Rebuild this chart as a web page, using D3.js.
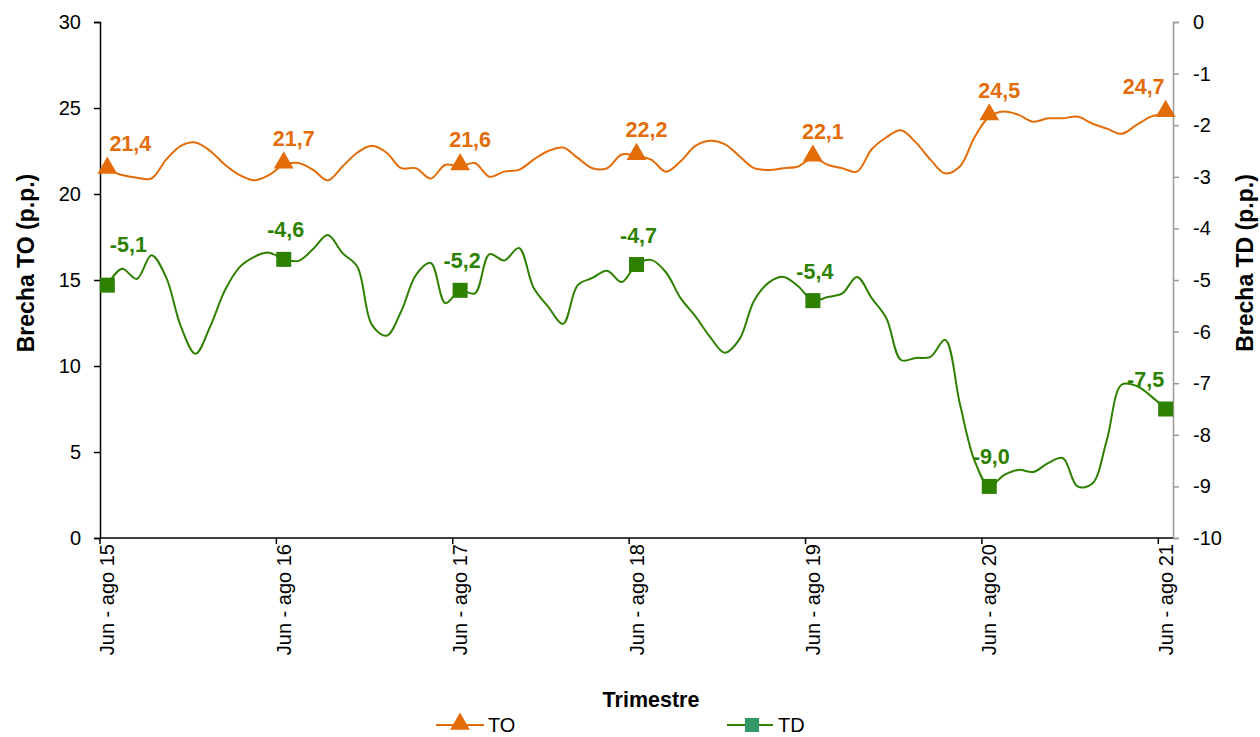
<!DOCTYPE html>
<meta charset="utf-8">
<script src="https://d3js.org/d3.v7.min.js"></script>
<style>
  body { margin: 0; background: #fff; }
  text { font-family: "Liberation Sans", Arial, sans-serif; }
</style>
<div id="chart"></div>
<script>
    // monthly data, Jun-ago 2015 .. Jun-ago 2021 (73 rolling quarters)
    var years = ["15", "16", "17", "18", "19", "20", "21"];
    var toValues = [21.4, 21.1, 20.95, 20.9, 22.0, 22.8, 23.0, 22.5, 21.7, 21.1, 20.8, 21.1,
        21.7, 21.8, 21.4, 20.8, 21.6, 22.4, 22.8, 22.4, 21.5, 21.5, 20.9, 21.7,
        21.6, 21.8, 21.0, 21.3, 21.4, 22.0, 22.5, 22.7, 22.1, 21.5, 21.5, 22.3,
        22.2, 22.0, 21.3, 21.9, 22.8, 23.1, 22.9, 22.2, 21.5, 21.4, 21.5, 21.6,
        22.1, 21.7, 21.5, 21.3, 22.6, 23.3, 23.7, 23.0, 22.0, 21.2, 21.6, 23.3,
        24.5, 24.8, 24.6, 24.2, 24.4, 24.4, 24.5, 24.1, 23.8, 23.5, 24.0, 24.5,
        24.7];
    var tdValues = [-5.1, -4.78, -4.98, -4.52, -4.95, -5.9, -6.43, -5.9, -5.2, -4.75, -4.55, -4.47,
        -4.6, -4.63, -4.4, -4.13, -4.48, -4.74, -5.87, -6.08, -5.6, -4.9, -4.67, -5.45,
        -5.2, -5.26, -4.5, -4.62, -4.38, -5.15, -5.52, -5.85, -5.1, -4.96, -4.82, -5.04,
        -4.7, -4.61, -4.85, -5.35, -5.7, -6.1, -6.41, -6.15, -5.4, -5.05, -4.94, -5.12,
        -5.4, -5.33, -5.26, -4.94, -5.35, -5.74, -6.55, -6.51, -6.49, -6.16, -7.4, -8.5,
        -9.0, -8.78, -8.68, -8.72, -8.55, -8.45, -9.0, -8.95, -8.1, -7.03, -7.05, -7.25,
        -7.5];
    var leftTicks = [0, 5, 10, 15, 20, 25, 30];
    var rightTicks = [0, -1, -2, -3, -4, -5, -6, -7, -8, -9, -10];

    var orange = "#e36c09";
    var green = "#2e8000";

    var width = 1260, height = 737;
    var x0 = 100, x1 = 1173, yTop = 22, yBot = 538;

    // spanish number format with a plain hyphen for negatives
    var es = d3.formatLocale({ decimal: ",", thousands: ".", grouping: [3], currency: ["", ""], minus: "-" });
    var fmt = es.format(".1f");
    var fmtInt = es.format("d");

    var svg = d3.select("#chart").append("svg")
        .attr("width", width).attr("height", height);

    var idx = d3.range(toValues.length);
    var x = d3.scaleBand().domain(idx).range([x0, x1]);
    var cx = function(i) { return x(i) + x.bandwidth() / 2; };
    var yL = d3.scaleLinear().domain([0, 30]).range([yBot, yTop]);
    var yR = d3.scaleLinear().domain([-10, 0]).range([yBot, yTop]);

    // left axis
    var axL = svg.append("g").attr("transform", "translate(" + x0 + ",0)")
        .call(d3.axisLeft(yL).tickValues(leftTicks).tickFormat(fmtInt).tickSize(6).tickPadding(13));
    axL.selectAll("text").attr("font-size", 20).attr("fill", "#000");
    axL.selectAll("line,path").attr("stroke", "#000").attr("stroke-width", 1.5);

    // right axis
    var axR = svg.append("g").attr("transform", "translate(" + x1 + ",0)")
        .call(d3.axisRight(yR).tickValues(rightTicks).tickFormat(fmtInt).tickSize(6).tickPadding(14));
    axR.selectAll("text").attr("font-size", 20).attr("fill", "#000");
    axR.selectAll("line,path").attr("stroke", "#999").attr("stroke-width", 1.5);

    // x axis, ticks every 12 months
    var yearIdx = years.map(function(d, k) { return k * 12; });
    var axX = svg.append("g");
    axX.append("line").attr("x1", x0).attr("x2", x1).attr("y1", yBot).attr("y2", yBot)
        .attr("stroke", "#000").attr("stroke-width", 1.5);
    axX.selectAll(".tk").data(yearIdx).enter().append("line")
        .attr("x1", function(i) { return x(i); }).attr("x2", function(i) { return x(i); })
        .attr("y1", yBot).attr("y2", yBot + 6).attr("stroke", "#000").attr("stroke-width", 1.5);
    axX.selectAll(".lb").data(years).enter().append("text")
        .attr("transform", function(d, k) { return "translate(" + (cx(k * 12) + 7) + "," + (yBot + 6) + ") rotate(-90)"; })
        .attr("text-anchor", "end")
        .attr("font-size", 20)
        .text(function(d) { return "Jun - ago " + d; });

    // axis titles
    svg.append("text").attr("transform", "translate(34,263) rotate(-90)")
        .attr("text-anchor", "middle").attr("font-size", 23).attr("font-weight", "bold")
        .text("Brecha TO (p.p.)");
    svg.append("text").attr("transform", "translate(1253,263) rotate(-90)")
        .attr("text-anchor", "middle").attr("font-size", 23).attr("font-weight", "bold")
        .text("Brecha TD (p.p.)");
    svg.append("text").attr("x", 651).attr("y", 707)
        .attr("text-anchor", "middle").attr("font-size", 21.5).attr("font-weight", "bold")
        .text("Trimestre");

    // lines
    var lineTO = d3.line().x(function(d, i) { return cx(i); }).y(function(d) { return yL(d); })
        .curve(d3.curveCatmullRom.alpha(0.5));
    var lineTD = d3.line().x(function(d, i) { return cx(i); }).y(function(d) { return yR(d); })
        .curve(d3.curveCatmullRom.alpha(0.5));

    svg.append("path").datum(toValues).attr("d", lineTO)
        .attr("fill", "none").attr("stroke", orange).attr("stroke-width", 2);
    svg.append("path").datum(tdValues).attr("d", lineTD)
        .attr("fill", "none").attr("stroke", green).attr("stroke-width", 2);

    var tri = d3.symbol().type(d3.symbolTriangle).size(170);
    var last = yearIdx.length - 1;
    var toDx = function(k) { return k === 0 ? 23 : (k === last ? -22 : 10); };
    var tdDx = function(k) { return k === 0 ? 21 : (k === last ? -20 : 2); };

    // TO markers and labels
    svg.selectAll(".mTO").data(yearIdx).enter().append("path")
        .attr("d", tri)
        .attr("transform", function(i) { return "translate(" + cx(i) + "," + (yL(toValues[i]) - 2) + ")"; })
        .attr("fill", orange);
    svg.selectAll(".lTO").data(yearIdx).enter().append("text")
        .attr("x", function(i, k) { return cx(i) + toDx(k); })
        .attr("y", function(i) { return yL(toValues[i]) - 19; })
        .attr("text-anchor", "middle").attr("font-size", 21.5).attr("font-weight", "bold")
        .attr("fill", orange)
        .text(function(i) { return fmt(toValues[i]); });

    // TD markers and labels
    svg.selectAll(".mTD").data(yearIdx).enter().append("rect")
        .attr("x", function(i) { return cx(i) - 7.5; })
        .attr("y", function(i) { return yR(tdValues[i]) - 7.5; })
        .attr("width", 15).attr("height", 15)
        .attr("fill", green);
    svg.selectAll(".lTD").data(yearIdx).enter().append("text")
        .attr("x", function(i, k) { return cx(i) + tdDx(k); })
        .attr("y", function(i, k) { return yR(tdValues[i]) - (k === 0 ? 33 : 22); })
        .attr("text-anchor", "middle").attr("font-size", 21.5).attr("font-weight", "bold")
        .attr("fill", green)
        .text(function(i) { return fmt(tdValues[i]); });

    // legend
    var lg = svg.append("g").attr("transform", "translate(0,725)");
    lg.append("line").attr("x1", 436).attr("x2", 484).attr("stroke", orange).attr("stroke-width", 2);
    lg.append("path").attr("d", tri).attr("transform", "translate(460,-1)").attr("fill", orange);
    lg.append("text").attr("x", 488).attr("y", 7).attr("font-size", 20).text("TO");
    lg.append("line").attr("x1", 727).attr("x2", 773).attr("stroke", green).attr("stroke-width", 2);
    lg.append("rect").attr("x", 745).attr("y", -7).attr("width", 14).attr("height", 14).attr("fill", "#339966");
    lg.append("text").attr("x", 778).attr("y", 7).attr("font-size", 20).text("TD");
</script>
